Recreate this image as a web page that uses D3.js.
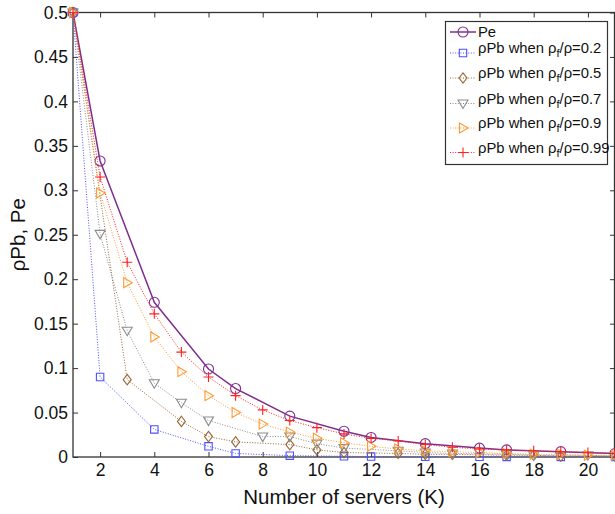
<!DOCTYPE html>
<html>
<head>
<meta charset="utf-8">
<script src="https://cdn.jsdelivr.net/npm/d3@7"></script>
<style>
	body { margin: 0; background: #fff; }
	svg { font-family: "Liberation Sans", Arial, sans-serif; }
	.axis text { font-size: 17.5px; fill: #111; }
	.axis line { stroke: #333; }
</style>
</head>
<body>
<svg class="chart" width="615" height="514"></svg>
<script>
// x ticks / y ticks
var xTicks = [2, 4, 6, 8, 10, 12, 14, 16, 18, 20];
var yTicks = [0, 0.05, 0.1, 0.15, 0.2, 0.25, 0.3, 0.35, 0.4, 0.45, 0.5];

// Pe (solid purple, circles)
var peX = [1, 2, 4, 6, 7, 9, 11, 12, 14, 16, 17, 19, 21];
var peY = [0.5, 0.333, 0.174, 0.099, 0.077, 0.046, 0.029, 0.022, 0.015, 0.010, 0.008, 0.006, 0.004];

// rho*Pb when rho_f/rho = 0.2
var r02X = [1, 2, 4, 6, 7, 9, 11, 12, 14, 16, 17, 19, 21];
var r02Y = [0.5, 0.090, 0.031, 0.012, 0.004, 0.0015, 0.0008, 0.0005, 0.0003, 0.0002, 0.0001, 0.0001, 0.0001];

// rho_f/rho = 0.5
var r05X = [1, 3, 5, 6, 7, 9, 10, 11, 13, 14, 15, 17, 18, 19, 21];
var r05Y = [0.5, 0.087, 0.040, 0.023, 0.017, 0.014, 0.008, 0.005, 0.004, 0.003, 0.003, 0.002, 0.002, 0.001, 0.001];

// rho_f/rho = 0.7
var r07X = [1, 2, 3, 4, 5, 6, 8, 9, 10, 11, 13, 14, 15, 17, 18, 20, 21];
var r07Y = [0.5, 0.251, 0.142, 0.083, 0.061, 0.041, 0.023, 0.023, 0.015, 0.010, 0.007, 0.005, 0.004, 0.003, 0.002, 0.002, 0.001];

// rho_f/rho = 0.9
var r09X = [1, 2, 3, 4, 5, 6, 7, 8, 9, 10, 11, 12, 13, 14, 15, 16, 17, 18, 19, 20, 21];
var r09Y = [0.5, 0.297, 0.196, 0.135, 0.096, 0.069, 0.050, 0.037, 0.028, 0.021, 0.016, 0.012, 0.009, 0.007, 0.006, 0.005, 0.004, 0.003, 0.003, 0.002, 0.002];

// rho_f/rho = 0.99
var r099X = [1, 2, 3, 4, 5, 6, 7, 8, 9, 10, 11, 12, 13, 14, 15, 16, 17, 18, 19, 20, 21];
var r099Y = [0.5, 0.315, 0.219, 0.161, 0.118, 0.090, 0.069, 0.053, 0.041, 0.033, 0.026, 0.021, 0.018, 0.014, 0.011, 0.009, 0.008, 0.007, 0.006, 0.005, 0.004];

var seriesNames = ["Pe", "0.2", "0.5", "0.7", "0.9", "0.99"];

var chart = {
	svg:	null,
	margin:	{top: 12.5, right: 0, bottom: 57, left: 73},
	width:	null,
	height:	null,
	xScale:	null,
	yScale:	null,
	series:	[],

	setup: function() {
		this.svg = d3.select(".chart");
		this.width = +this.svg.attr("width") - this.margin.left - this.margin.right;
		this.height = +this.svg.attr("height") - this.margin.top - this.margin.bottom;

		this.xScale = d3.scaleLinear().domain([1, 21]).range([0, this.width]);
		this.yScale = d3.scaleLinear().domain([0, 0.5]).range([this.height, 0]);

		var xs = [peX, r02X, r05X, r07X, r09X, r099X];
		var ys = [peY, r02Y, r05Y, r07Y, r09Y, r099Y];
		var styles = [
			{color: "#7e2f8e", marker: "circle",   dash: null,    width: 1.5},
			{color: "#4f4fff", marker: "square",   dash: "1,1.6", width: 1},
			{color: "#996633", marker: "diamond",  dash: "1,1.6", width: 1},
			{color: "#8c8c8c", marker: "tridown",  dash: "1,1.6", width: 1},
			{color: "#ff9933", marker: "triright", dash: "1,1.6", width: 1},
			{color: "#ff2020", marker: "plus",     dash: "1,1.6", width: 1}
		];
		for (var i = 0; i < xs.length; i++) {
			this.series.push({
				name: seriesNames[i],
				style: styles[i],
				points: xs[i].map(function(x, j) { return {x: x, y: ys[i][j]}; })
			});
		}
	},

	// marker shape centred at 0,0
	markerPath: function(type) {
		switch (type) {
			case "circle":   return d3.arc()({innerRadius: 0, outerRadius: 5, startAngle: 0, endAngle: 2 * Math.PI});
			case "square":   return "M-3.7,-3.7H3.7V3.7H-3.7Z";
			case "diamond":  return "M0,-5.2L4,0L0,5.2L-4,0Z";
			case "tridown":  return "M-5,-3.5H5L0,5Z";
			case "triright": return "M-3.5,-5L5,0L-3.5,5Z";
			case "plus":     return "M-5,0H5M0,-5V5";
		}
	},

	draw: function() {
		var g = this.svg.append("g")
			.attr("transform", "translate(" + this.margin.left + "," + this.margin.top + ")");
		var w = this.width, h = this.height;

		// axes, ticks inside on all four sides
		g.append("g").attr("class", "axis")
			.attr("transform", "translate(0," + h + ")")
			.call(d3.axisBottom(this.xScale).tickValues(xTicks).tickSizeInner(-5).tickSizeOuter(0).tickPadding(7))
			.call(function(a) { a.select(".domain").remove(); });
		g.append("g").attr("class", "axis")
			.call(d3.axisTop(this.xScale).tickValues(xTicks).tickSizeInner(-5).tickSizeOuter(0).tickFormat(""))
			.call(function(a) { a.select(".domain").remove(); });
		g.append("g").attr("class", "axis")
			.call(d3.axisLeft(this.yScale).tickValues(yTicks).tickSizeInner(-5).tickSizeOuter(0).tickPadding(5)
				.tickFormat(function(d) { return d3.format("~g")(d); }))
			.call(function(a) { a.select(".domain").remove(); });
		g.append("g").attr("class", "axis")
			.attr("transform", "translate(" + w + ",0)")
			.call(d3.axisRight(this.yScale).tickValues(yTicks).tickSizeInner(-5).tickSizeOuter(0).tickFormat(""))
			.call(function(a) { a.select(".domain").remove(); });

		g.append("rect")
			.attr("x", 0).attr("y", 0)
			.attr("width", w - 0.5).attr("height", h)
			.attr("fill", "none")
			.attr("stroke", "#333")
			.attr("stroke-width", 1.3);

		var line = d3.line()
			.x(function(d) { return chart.xScale(d.x); })
			.y(function(d) { return chart.yScale(d.y); });

		this.series.forEach(function(s) {
			var sg = g.append("g");
			sg.append("path")
				.datum(s.points)
				.attr("d", line)
				.attr("fill", "none")
				.attr("stroke", s.style.color)
				.attr("stroke-width", s.style.width)
				.attr("stroke-dasharray", s.style.dash);
			sg.selectAll(".mk")
				.data(s.points)
				.enter().append("path")
				.attr("class", "mk")
				.attr("d", chart.markerPath(s.style.marker))
				.attr("transform", function(d) { return "translate(" + chart.xScale(d.x) + "," + chart.yScale(d.y) + ")"; })
				.attr("fill", "none")
				.attr("stroke", s.style.color)
				.attr("stroke-width", 1.1);
		});

		// axis labels
		this.svg.append("text")
			.text("Number of servers (K)")
			.attr("x", this.margin.left + w / 2)
			.attr("y", 504)
			.attr("text-anchor", "middle")
			.attr("font-size", 20.5)
			.attr("fill", "#111");
		this.svg.append("text")
			.text("ρPb, Pe")
			.attr("transform", "translate(25," + (this.margin.top + h / 2) + ") rotate(-90)")
			.attr("text-anchor", "middle")
			.attr("font-size", 20.5)
			.attr("fill", "#111");

		// legend
		var lg = this.svg.append("g");
		lg.append("rect")
			.attr("x", 445.5).attr("y", 21.5)
			.attr("width", 162).attr("height", 143)
			.attr("fill", "#fff")
			.attr("stroke", "#333")
			.attr("stroke-width", 1.2);
		var rowY = [32, 53, 78, 103.5, 128, 152.5];
		this.series.forEach(function(s, i) {
			var y = rowY[i];
			lg.append("line")
				.attr("x1", 450).attr("x2", 476)
				.attr("y1", y).attr("y2", y)
				.attr("stroke", s.style.color)
				.attr("stroke-width", s.style.width)
				.attr("stroke-dasharray", s.style.dash);
			lg.append("path")
				.attr("d", chart.markerPath(s.style.marker))
				.attr("transform", "translate(463," + y + ")")
				.attr("fill", "none")
				.attr("stroke", s.style.color)
				.attr("stroke-width", 1.1);
			var t = lg.append("text")
				.attr("x", 478)
				.attr("y", i == 0 ? y + 5 : y)
				.attr("font-size", 14.8)
				.attr("fill", "#111");
			if (i == 0) {
				t.text("Pe");
			} else {
				t.append("tspan").text("ρPb when ρ");
				t.append("tspan").text("f").attr("font-size", 11).attr("dy", 4);
				t.append("tspan").text("/ρ=" + s.name).attr("dy", -4);
			}
		});
	}
};

chart.setup();
chart.draw();
</script>
</body>
</html>
